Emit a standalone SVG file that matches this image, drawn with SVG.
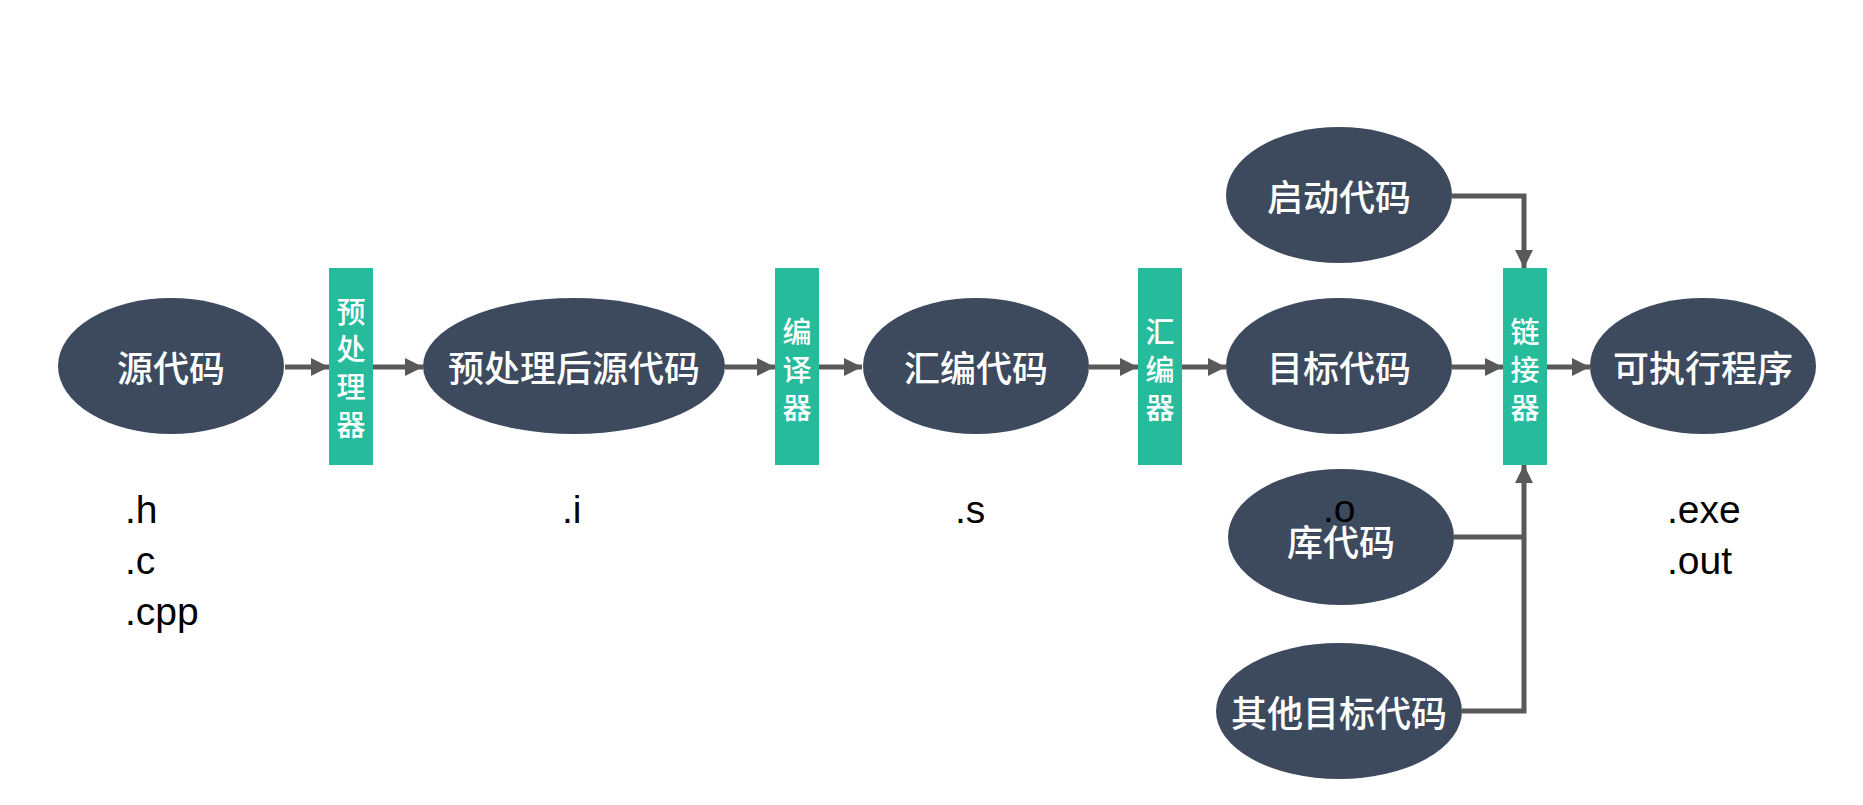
<svg xmlns="http://www.w3.org/2000/svg" width="1863" height="805" viewBox="0 0 1863 805">
<style>
.node ellipse{fill:#3D4A5E}
.node text{fill:#FFFFFF;font-family:"Noto Sans CJK SC","Microsoft YaHei",sans-serif;font-size:36px;font-weight:500;text-anchor:middle;dominant-baseline:central}
.tool rect{fill:#26BC9B}
.tool text{fill:#FFFFFF;font-family:"Noto Sans CJK SC",sans-serif;font-size:29px;font-weight:500;text-anchor:middle;dominant-baseline:central}
.ext{fill:#000000;font-family:"Liberation Sans",Arial,sans-serif;font-size:39px}
.conn{stroke:#595959;stroke-width:5;fill:none}
</style>
<defs>
<marker id="arr" markerWidth="18" markerHeight="18" refX="18" refY="9" orient="auto" markerUnits="userSpaceOnUse" viewBox="0 0 18 18">
<path d="M0,0 L18,9 L0,18 Z" fill="#595959"/>
</marker>
</defs>
<rect width="1863" height="805" fill="#FFFFFF"/>

<g id="connectors">
<path class="conn" d="M285,367 H329" marker-end="url(#arr)"/>
<path class="conn" d="M373,367 H423" marker-end="url(#arr)"/>
<path class="conn" d="M725,367 H775" marker-end="url(#arr)"/>
<path class="conn" d="M819,367 H862" marker-end="url(#arr)"/>
<path class="conn" d="M1089,367 H1138" marker-end="url(#arr)"/>
<path class="conn" d="M1182,367 H1226" marker-end="url(#arr)"/>
<path class="conn" d="M1452,367 H1503" marker-end="url(#arr)"/>
<path class="conn" d="M1546,367 H1590" marker-end="url(#arr)"/>
<path class="conn" d="M1452,196 H1524 V268" marker-end="url(#arr)"/>
<path class="conn" d="M1462,711 H1524 V465" marker-end="url(#arr)"/>
<path class="conn" d="M1454,537 H1524"/>
</g>

<g id="n-src" class="node"><ellipse cx="171" cy="366" rx="113" ry="68"/><text x="171" y="366">源代码</text></g>
<g id="t-pre" class="tool"><rect x="329" y="268" width="44" height="197"/>
<text x="351" y="310">预</text><text x="351" y="347">处</text><text x="351" y="385">理</text><text x="351" y="423">器</text></g>
<g id="n-pp" class="node"><ellipse cx="574" cy="366" rx="151" ry="68"/><text x="574" y="366">预处理后源代码</text></g>
<g id="t-cc" class="tool"><rect x="775" y="268" width="44" height="197"/>
<text x="797" y="330">编</text><text x="797" y="368">译</text><text x="797" y="406">器</text></g>
<g id="n-asm" class="node"><ellipse cx="976" cy="366" rx="113" ry="68"/><text x="976" y="366">汇编代码</text></g>
<g id="t-as" class="tool"><rect x="1138" y="268" width="44" height="197"/>
<text x="1160" y="330">汇</text><text x="1160" y="368">编</text><text x="1160" y="406">器</text></g>
<g id="n-obj" class="node"><ellipse cx="1339" cy="366" rx="113" ry="68"/><text x="1339" y="366">目标代码</text></g>
<g id="n-start" class="node"><ellipse cx="1339" cy="195" rx="113" ry="68"/><text x="1339" y="195">启动代码</text></g>
<g id="n-lib" class="node"><ellipse cx="1341" cy="537" rx="113" ry="68"/><text x="1341" y="540">库代码</text></g>
<g id="n-other" class="node"><ellipse cx="1339" cy="711" rx="123" ry="68"/><text x="1339" y="711">其他目标代码</text></g>
<g id="t-ld" class="tool"><rect x="1503" y="268" width="44" height="197"/>
<text x="1525" y="330">链</text><text x="1525" y="368">接</text><text x="1525" y="406">器</text></g>
<g id="n-exe" class="node"><ellipse cx="1703" cy="366" rx="113" ry="68"/><text x="1703" y="366">可执行程序</text></g>

<g id="labels">
<text class="ext" x="125" y="523">.h</text>
<text class="ext" x="125" y="574">.c</text>
<text class="ext" x="125" y="625">.cpp</text>
<text class="ext" x="562" y="523">.i</text>
<text class="ext" x="955" y="523">.s</text>
<text class="ext" x="1323" y="522">.o</text>
<text class="ext" x="1667" y="523">.exe</text>
<text class="ext" x="1667" y="574">.out</text>
</g>
</svg>
